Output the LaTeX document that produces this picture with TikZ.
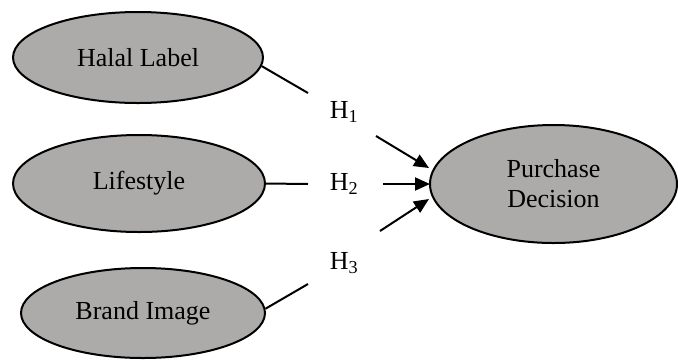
\documentclass[tikz,border=0pt]{standalone}
\usepackage{fontspec}
\setmainfont{Liberation Serif}
\usetikzlibrary{shapes.geometric,arrows.meta}
\definecolor{ovalgray}{RGB}{173,170,170}
\begin{document}
\begin{tikzpicture}[x=1pt,y=-1pt,
  oval/.style={ellipse,draw=black,line width=2pt,fill=ovalgray,inner sep=0pt,
    font=\fontsize{26}{30}\selectfont,align=center},
  link/.style={line width=2pt,draw=black},
  arr/.style={line width=2pt,draw=black,-{Triangle[length=15pt,width=13pt]}},
  hyp/.style={font=\fontsize{26}{30}\selectfont,inner sep=0pt}]
\useasboundingbox (0,0) rectangle (678,360);
\node[oval,minimum width=250pt,minimum height=91pt] (hl) at (138,57.5) {Halal Label};
\node[oval,minimum width=252pt,minimum height=97pt] (ls) at (139,183.5) {Lifestyle};
\node[oval,minimum width=244pt,minimum height=90pt] (bi) at (143,313) {Brand Image};
\node[oval,minimum width=247pt,minimum height=118pt] (pd) at (553.5,184) {Purchase\\Decision};
\node[hyp] (h1) at (344,112) {H\textsubscript{1}};
\node[hyp] (h2) at (344,184) {H\textsubscript{2}};
\node[hyp] (h3) at (344,263) {H\textsubscript{3}};
\coordinate (e1) at (308,93);
\coordinate (e2) at (308,184);
\coordinate (e3) at (308,284);
\coordinate (s1) at (376,136);
\coordinate (s2) at (383,184);
\coordinate (s3) at (380,231);
\coordinate (t1) at (429,168);
\coordinate (t2) at (430,184);
\coordinate (t3) at (429,199);
\draw[link] (hl.-4) -- (e1);
\draw[link] (ls.east) -- (e2);
\draw[link] (bi.2) -- (e3);
\draw[arr] (s1) -- (t1);
\draw[arr] (s2) -- (t2);
\draw[arr] (s3) -- (t3);
\end{tikzpicture}
\end{document}
